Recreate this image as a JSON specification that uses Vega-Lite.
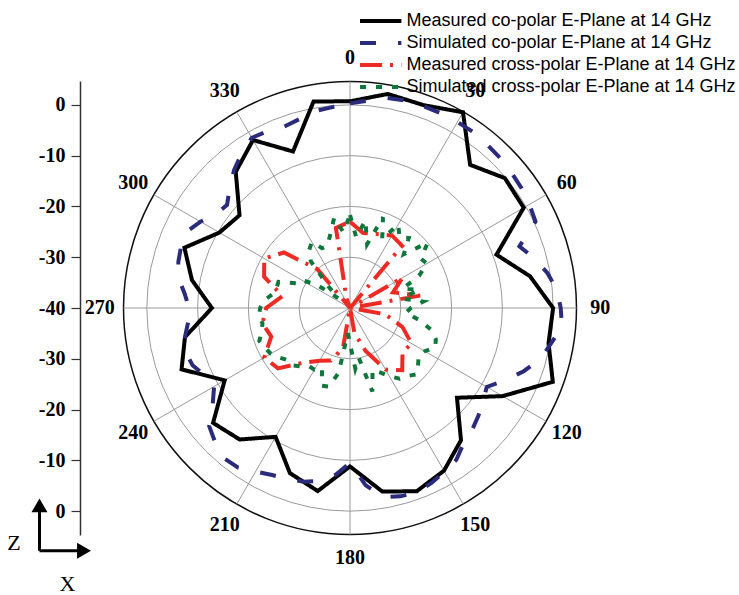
{
  "$schema": "https://vega.github.io/schema/vega-lite/v6.json",
  "width": 540,
  "height": 454,
  "autosize": {"type": "none"},
  "padding": {"left": 80, "top": 81, "right": 119, "bottom": 60},
  "background": "white",
  "config": {"view": {"stroke": null}},
  "datasets": {
    "seriesNames": [
      {"s": "mco", "series": "Measured co-polar E-Plane at 14 GHz"},
      {"s": "sco", "series": "Simulated co-polar E-Plane at 14 GHz"},
      {"s": "mx", "series": "Measured cross-polar E-Plane at 14 GHz"},
      {"s": "sx", "series": "Simulated cross-polar E-Plane at 14 GHz"}
    ],
    "rings": [
      {"level": 10, "kind": "grid"}, {"level": 20, "kind": "grid"}, {"level": 30, "kind": "grid"},
      {"level": 40, "kind": "grid"}, {"level": 44.6, "kind": "rim"}
    ],
    "spokes": [
      {"angle": 0}, {"angle": 30}, {"angle": 60}, {"angle": 90}, {"angle": 120}, {"angle": 150},
      {"angle": 180}, {"angle": 210}, {"angle": 240}, {"angle": 270}, {"angle": 300}, {"angle": 330}
    ],
    "frame": [
      {"axis": "Z", "x": -61.15, "y": -47.8, "x2": -61.15, "y2": -39.5},
      {"axis": "X", "x": -61.15, "y": -47.8, "x2": -53.0, "y2": -47.8}
    ],
    "heads": [
      {"axis": "Z", "x": -61.15, "y": -38.87, "shape": "triangle-up"},
      {"axis": "X", "x": -52.38, "y": -47.8, "shape": "triangle-right"}
    ],
    "frameLabels": [
      {"axis": "Z", "x": -66.17, "y": -46.22},
      {"axis": "X", "x": -55.63, "y": -54.39}
    ],
    "curves": [
      {"s": "mco", "angle": 0, "dB": 0.7}, {"s": "mco", "angle": 10, "dB": 2.8}, {"s": "mco", "angle": 20, "dB": 2.5},
      {"s": "mco", "angle": 30, "dB": 4.5}, {"s": "mco", "angle": 40, "dB": -3.2}, {"s": "mco", "angle": 50, "dB": -0.2},
      {"s": "mco", "angle": 60, "dB": -0.5}, {"s": "mco", "angle": 70, "dB": -9.3}, {"s": "mco", "angle": 80, "dB": -4.0},
      {"s": "mco", "angle": 90, "dB": 0.0}, {"s": "mco", "angle": 100, "dB": -0.3}, {"s": "mco", "angle": 110, "dB": 2.5},
      {"s": "mco", "angle": 120, "dB": -5.3}, {"s": "mco", "angle": 130, "dB": -12.5}, {"s": "mco", "angle": 140, "dB": -6.0},
      {"s": "mco", "angle": 150, "dB": -3.0}, {"s": "mco", "angle": 160, "dB": -1.6}, {"s": "mco", "angle": 170, "dB": -3.3},
      {"s": "mco", "angle": 180, "dB": -8.8}, {"s": "mco", "angle": 190, "dB": -3.4}, {"s": "mco", "angle": 200, "dB": -5.4},
      {"s": "mco", "angle": 210, "dB": -10.7}, {"s": "mco", "angle": 220, "dB": -6.2}, {"s": "mco", "angle": 230, "dB": -4.8},
      {"s": "mco", "angle": 240, "dB": -11.5}, {"s": "mco", "angle": 250, "dB": -4.7}, {"s": "mco", "angle": 260, "dB": -7.0},
      {"s": "mco", "angle": 270, "dB": -12.8}, {"s": "mco", "angle": 280, "dB": -8.4}, {"s": "mco", "angle": 290, "dB": -5.3},
      {"s": "mco", "angle": 300, "dB": -10.3}, {"s": "mco", "angle": 310, "dB": -11.6}, {"s": "mco", "angle": 320, "dB": -5.0},
      {"s": "mco", "angle": 330, "dB": -1.8}, {"s": "mco", "angle": 340, "dB": -7.2}, {"s": "mco", "angle": 350, "dB": 1.3},
      {"s": "mco", "angle": 360, "dB": 0.7},

      {"s": "sco", "angle": 0, "dB": 0.3}, {"s": "sco", "angle": 5, "dB": 1.0}, {"s": "sco", "angle": 10, "dB": 2.0},
      {"s": "sco", "angle": 15, "dB": 2.3}, {"s": "sco", "angle": 20, "dB": 2.3}, {"s": "sco", "angle": 25, "dB": 2.3},
      {"s": "sco", "angle": 30, "dB": 2.3}, {"s": "sco", "angle": 35, "dB": 2.3}, {"s": "sco", "angle": 40, "dB": 2.0},
      {"s": "sco", "angle": 45, "dB": 1.8}, {"s": "sco", "angle": 50, "dB": 1.5}, {"s": "sco", "angle": 55, "dB": 1.2},
      {"s": "sco", "angle": 60, "dB": 0.8}, {"s": "sco", "angle": 65, "dB": 0.3}, {"s": "sco", "angle": 70, "dB": -4.5},
      {"s": "sco", "angle": 75, "dB": -2.4}, {"s": "sco", "angle": 80, "dB": -0.5}, {"s": "sco", "angle": 85, "dB": 0.9},
      {"s": "sco", "angle": 90, "dB": 1.5}, {"s": "sco", "angle": 95, "dB": 1.9}, {"s": "sco", "angle": 100, "dB": 0.2},
      {"s": "sco", "angle": 105, "dB": -1.2}, {"s": "sco", "angle": 110, "dB": -3.6}, {"s": "sco", "angle": 115, "dB": -6.3},
      {"s": "sco", "angle": 120, "dB": -8.9}, {"s": "sco", "angle": 125, "dB": -8.0}, {"s": "sco", "angle": 130, "dB": -7.0},
      {"s": "sco", "angle": 135, "dB": -6.0}, {"s": "sco", "angle": 140, "dB": -5.2}, {"s": "sco", "angle": 145, "dB": -3.5},
      {"s": "sco", "angle": 150, "dB": -2.8}, {"s": "sco", "angle": 155, "dB": -2.0}, {"s": "sco", "angle": 160, "dB": -1.4},
      {"s": "sco", "angle": 165, "dB": -1.6}, {"s": "sco", "angle": 170, "dB": -2.2}, {"s": "sco", "angle": 175, "dB": -5.0},
      {"s": "sco", "angle": 180, "dB": -9.5}, {"s": "sco", "angle": 185, "dB": -7.0}, {"s": "sco", "angle": 190, "dB": -5.4},
      {"s": "sco", "angle": 195, "dB": -4.6}, {"s": "sco", "angle": 200, "dB": -4.2}, {"s": "sco", "angle": 205, "dB": -3.7},
      {"s": "sco", "angle": 210, "dB": -2.8}, {"s": "sco", "angle": 215, "dB": -1.6}, {"s": "sco", "angle": 220, "dB": -1.4},
      {"s": "sco", "angle": 225, "dB": -2.5}, {"s": "sco", "angle": 230, "dB": -3.8}, {"s": "sco", "angle": 235, "dB": -7.0},
      {"s": "sco", "angle": 240, "dB": -9.1}, {"s": "sco", "angle": 245, "dB": -8.5}, {"s": "sco", "angle": 250, "dB": -7.0},
      {"s": "sco", "angle": 255, "dB": -6.5}, {"s": "sco", "angle": 260, "dB": -7.0}, {"s": "sco", "angle": 265, "dB": -8.0},
      {"s": "sco", "angle": 270, "dB": -8.3}, {"s": "sco", "angle": 275, "dB": -7.3}, {"s": "sco", "angle": 280, "dB": -5.7},
      {"s": "sco", "angle": 285, "dB": -5.0}, {"s": "sco", "angle": 290, "dB": -4.6}, {"s": "sco", "angle": 295, "dB": -4.5},
      {"s": "sco", "angle": 300, "dB": -6.0}, {"s": "sco", "angle": 305, "dB": -7.8}, {"s": "sco", "angle": 310, "dB": -8.4},
      {"s": "sco", "angle": 315, "dB": -6.5}, {"s": "sco", "angle": 320, "dB": -4.5}, {"s": "sco", "angle": 325, "dB": -2.8},
      {"s": "sco", "angle": 330, "dB": -1.3}, {"s": "sco", "angle": 335, "dB": -1.6}, {"s": "sco", "angle": 340, "dB": -2.0},
      {"s": "sco", "angle": 345, "dB": -1.5}, {"s": "sco", "angle": 350, "dB": -0.6}, {"s": "sco", "angle": 355, "dB": -0.3},
      {"s": "sco", "angle": 360, "dB": 0.3},

      {"s": "mx", "angle": 0, "dB": -23.0}, {"s": "mx", "angle": 10, "dB": -25.0}, {"s": "mx", "angle": 20, "dB": -24.5},
      {"s": "mx", "angle": 30, "dB": -23.5}, {"s": "mx", "angle": 40, "dB": -24.0}, {"s": "mx", "angle": 50, "dB": -40.0},
      {"s": "mx", "angle": 60, "dB": -28.0}, {"s": "mx", "angle": 70, "dB": -31.0}, {"s": "mx", "angle": 80, "dB": -26.0},
      {"s": "mx", "angle": 90, "dB": -40.0}, {"s": "mx", "angle": 100, "dB": -33.0}, {"s": "mx", "angle": 110, "dB": -29.0},
      {"s": "mx", "angle": 120, "dB": -26.0}, {"s": "mx", "angle": 130, "dB": -26.5}, {"s": "mx", "angle": 140, "dB": -24.0},
      {"s": "mx", "angle": 150, "dB": -26.0}, {"s": "mx", "angle": 160, "dB": -31.0}, {"s": "mx", "angle": 170, "dB": -35.0},
      {"s": "mx", "angle": 180, "dB": -40.0}, {"s": "mx", "angle": 190, "dB": -32.0}, {"s": "mx", "angle": 200, "dB": -29.0},
      {"s": "mx", "angle": 210, "dB": -28.0}, {"s": "mx", "angle": 220, "dB": -26.0}, {"s": "mx", "angle": 230, "dB": -21.5},
      {"s": "mx", "angle": 240, "dB": -20.5}, {"s": "mx", "angle": 250, "dB": -23.5}, {"s": "mx", "angle": 260, "dB": -22.5},
      {"s": "mx", "angle": 270, "dB": -23.5}, {"s": "mx", "angle": 280, "dB": -26.5}, {"s": "mx", "angle": 290, "dB": -22.0},
      {"s": "mx", "angle": 300, "dB": -20.5}, {"s": "mx", "angle": 310, "dB": -23.0}, {"s": "mx", "angle": 320, "dB": -30.0},
      {"s": "mx", "angle": 330, "dB": -40.0}, {"s": "mx", "angle": 340, "dB": -38.0}, {"s": "mx", "angle": 350, "dB": -24.0},
      {"s": "mx", "angle": 360, "dB": -23.0},

      {"s": "sx", "angle": 0, "dB": -21.7}, {"s": "sx", "angle": 5, "dB": -26.0}, {"s": "sx", "angle": 10, "dB": -22.5},
      {"s": "sx", "angle": 15, "dB": -27.0}, {"s": "sx", "angle": 20, "dB": -21.0}, {"s": "sx", "angle": 25, "dB": -25.0},
      {"s": "sx", "angle": 30, "dB": -21.0}, {"s": "sx", "angle": 35, "dB": -23.0}, {"s": "sx", "angle": 40, "dB": -22.0},
      {"s": "sx", "angle": 45, "dB": -25.0}, {"s": "sx", "angle": 50, "dB": -20.0}, {"s": "sx", "angle": 55, "dB": -23.0},
      {"s": "sx", "angle": 60, "dB": -22.5}, {"s": "sx", "angle": 65, "dB": -25.0}, {"s": "sx", "angle": 70, "dB": -29.0},
      {"s": "sx", "angle": 75, "dB": -26.0}, {"s": "sx", "angle": 80, "dB": -29.5}, {"s": "sx", "angle": 85, "dB": -25.5},
      {"s": "sx", "angle": 90, "dB": -28.0}, {"s": "sx", "angle": 95, "dB": -29.0}, {"s": "sx", "angle": 100, "dB": -26.0},
      {"s": "sx", "angle": 105, "dB": -23.5}, {"s": "sx", "angle": 110, "dB": -22.0}, {"s": "sx", "angle": 115, "dB": -21.5},
      {"s": "sx", "angle": 120, "dB": -23.0}, {"s": "sx", "angle": 125, "dB": -23.5}, {"s": "sx", "angle": 130, "dB": -22.5},
      {"s": "sx", "angle": 135, "dB": -21.5}, {"s": "sx", "angle": 140, "dB": -22.5}, {"s": "sx", "angle": 145, "dB": -23.0},
      {"s": "sx", "angle": 150, "dB": -24.5}, {"s": "sx", "angle": 155, "dB": -26.0}, {"s": "sx", "angle": 160, "dB": -27.0},
      {"s": "sx", "angle": 165, "dB": -23.0}, {"s": "sx", "angle": 170, "dB": -30.0}, {"s": "sx", "angle": 175, "dB": -28.0},
      {"s": "sx", "angle": 180, "dB": -33.0}, {"s": "sx", "angle": 185, "dB": -35.0}, {"s": "sx", "angle": 190, "dB": -27.0},
      {"s": "sx", "angle": 195, "dB": -24.0}, {"s": "sx", "angle": 200, "dB": -23.7}, {"s": "sx", "angle": 205, "dB": -27.0},
      {"s": "sx", "angle": 210, "dB": -26.0}, {"s": "sx", "angle": 215, "dB": -26.0}, {"s": "sx", "angle": 220, "dB": -25.0},
      {"s": "sx", "angle": 225, "dB": -24.0}, {"s": "sx", "angle": 230, "dB": -24.0}, {"s": "sx", "angle": 235, "dB": -23.0},
      {"s": "sx", "angle": 240, "dB": -22.0}, {"s": "sx", "angle": 245, "dB": -21.5}, {"s": "sx", "angle": 250, "dB": -21.0},
      {"s": "sx", "angle": 255, "dB": -22.0}, {"s": "sx", "angle": 260, "dB": -22.5}, {"s": "sx", "angle": 265, "dB": -22.0},
      {"s": "sx", "angle": 270, "dB": -22.3}, {"s": "sx", "angle": 275, "dB": -23.0}, {"s": "sx", "angle": 280, "dB": -24.5},
      {"s": "sx", "angle": 285, "dB": -25.0}, {"s": "sx", "angle": 290, "dB": -25.0}, {"s": "sx", "angle": 295, "dB": -28.5},
      {"s": "sx", "angle": 300, "dB": -29.0}, {"s": "sx", "angle": 305, "dB": -32.0}, {"s": "sx", "angle": 310, "dB": -37.0},
      {"s": "sx", "angle": 315, "dB": -34.0}, {"s": "sx", "angle": 320, "dB": -28.0}, {"s": "sx", "angle": 325, "dB": -26.0},
      {"s": "sx", "angle": 330, "dB": -25.0}, {"s": "sx", "angle": 335, "dB": -27.0}, {"s": "sx", "angle": 340, "dB": -27.0},
      {"s": "sx", "angle": 345, "dB": -25.0}, {"s": "sx", "angle": 350, "dB": -22.0}, {"s": "sx", "angle": 355, "dB": -25.0},
      {"s": "sx", "angle": 360, "dB": -21.7}
    ]
  },
  "layer": [
    {
      "data": {"name": "rings"},
      "mark": {"type": "point", "shape": "circle", "filled": false, "opacity": 1},
      "encoding": {
        "x": {"datum": 0, "type": "quantitative", "scale": {"domain": [-53.17, 53.17], "nice": false, "zero": false}, "axis": null},
        "y": {"datum": 0, "type": "quantitative", "scale": {"domain": [-44.7, 44.7], "nice": false, "zero": false}},
        "size": {"field": "level", "type": "quantitative", "scale": {"type": "pow", "exponent": 2, "domain": [0, 44.7], "range": [0, 206116]}, "legend": null},
        "stroke": {"field": "kind", "type": "nominal", "scale": {"domain": ["grid", "rim"], "range": ["#9a9a9a", "#111111"]}, "legend": null},
        "strokeWidth": {"field": "kind", "type": "nominal", "scale": {"domain": ["grid", "rim"], "range": [1, 1.5]}, "legend": null}
      }
    },
    {
      "data": {"name": "spokes"},
      "transform": [
        {"calculate": "44.6 * sin(datum.angle * PI / 180)", "as": "ex"},
        {"calculate": "44.6 * cos(datum.angle * PI / 180)", "as": "ey"}
      ],
      "mark": {"type": "rule", "color": "#9a9a9a", "strokeWidth": 1},
      "encoding": {
        "x": {"field": "ex", "type": "quantitative", "scale": {"domain": [-53.17, 53.17], "nice": false, "zero": false}, "axis": null},
        "y": {"field": "ey", "type": "quantitative", "scale": {"domain": [-44.7, 44.7], "nice": false, "zero": false}},
        "x2": {"datum": 0},
        "y2": {"datum": 0}
      }
    },
    {
      "data": {"name": "spokes"},
      "transform": [
        {"calculate": "49.3 * sin(datum.angle * PI / 180)", "as": "lx"},
        {"calculate": "49.3 * cos(datum.angle * PI / 180)", "as": "ly"}
      ],
      "mark": {"type": "text", "font": "Liberation Serif", "fontWeight": "bold", "fontSize": 20, "color": "black", "align": "center", "baseline": "middle"},
      "encoding": {
        "x": {"field": "lx", "type": "quantitative", "scale": {"domain": [-53.17, 53.17], "nice": false, "zero": false}, "axis": null},
        "y": {"field": "ly", "type": "quantitative", "scale": {"domain": [-44.7, 44.7], "nice": false, "zero": false}},
        "text": {"field": "angle", "type": "quantitative"}
      }
    },
    {
      "data": {"name": "curves"},
      "transform": [
        {"lookup": "s", "from": {"data": {"name": "seriesNames"}, "key": "s", "fields": ["series"]}},
        {"calculate": "(datum.dB + 40) * sin(datum.angle * PI / 180)", "as": "cx"},
        {"calculate": "(datum.dB + 40) * cos(datum.angle * PI / 180)", "as": "cy"}
      ],
      "mark": {"type": "line", "strokeWidth": 4, "strokeCap": "butt", "strokeJoin": "miter"},
      "encoding": {
        "x": {"field": "cx", "type": "quantitative", "scale": {"domain": [-53.17, 53.17], "nice": false, "zero": false}, "axis": null},
        "y": {
          "field": "cy", "type": "quantitative",
          "scale": {"domain": [-44.7, 44.7], "nice": false, "zero": false},
          "axis": {
            "title": null, "grid": false,
            "values": [-40, -30, -20, -10, 0, 10, 20, 30, 40],
            "labelExpr": "abs(datum.value) - 40",
            "labelFont": "Liberation Serif", "labelFontWeight": "bold", "labelFontSize": 20, "labelColor": "black",
            "labelPadding": 6, "labelFlush": false, "labelOverlap": false,
            "tickSize": 9, "tickColor": "#333333", "tickWidth": 1.2,
            "domainColor": "#333333", "domainWidth": 1.5
          }
        },
        "order": {"field": "angle", "type": "quantitative"},
        "color": {
          "field": "series", "type": "nominal",
          "scale": {
            "domain": ["Measured co-polar E-Plane at 14 GHz", "Simulated co-polar E-Plane at 14 GHz", "Measured cross-polar E-Plane at 14 GHz", "Simulated cross-polar E-Plane at 14 GHz"],
            "range": ["#000000", "#2b2b7b", "#ee2a24", "#10773c"]
          },
          "legend": {
            "title": null, "orient": "none", "legendX": 289.7, "legendY": -71,
            "symbolType": "M-2.3,0L2.3,0", "symbolSize": 324, "symbolStrokeWidth": 4,
            "labelFont": "Liberation Sans", "labelFontSize": 18, "labelColor": "black", "labelLimit": 0,
            "labelOffset": 14.7, "rowPadding": 2, "padding": 0
          }
        },
        "strokeDash": {
          "field": "series", "type": "nominal",
          "scale": {
            "domain": ["Measured co-polar E-Plane at 14 GHz", "Simulated co-polar E-Plane at 14 GHz", "Measured cross-polar E-Plane at 14 GHz", "Simulated cross-polar E-Plane at 14 GHz"],
            "range": [[1, 0], [16, 22], [22, 8, 3, 8], [6, 10]]
          },
          "legend": {
            "title": null, "orient": "none", "legendX": 289.7, "legendY": -71,
            "symbolType": "M-2.3,0L2.3,0", "symbolSize": 324, "symbolStrokeWidth": 4,
            "labelFont": "Liberation Sans", "labelFontSize": 18, "labelColor": "black", "labelLimit": 0,
            "labelOffset": 14.7, "rowPadding": 2, "padding": 0
          }
        }
      }
    },
    {
      "data": {"name": "frame"},
      "mark": {"type": "rule", "color": "black", "strokeWidth": 3},
      "encoding": {
        "x": {"field": "x", "type": "quantitative", "scale": {"domain": [-53.17, 53.17], "nice": false, "zero": false}, "axis": null},
        "y": {"field": "y", "type": "quantitative", "scale": {"domain": [-44.7, 44.7], "nice": false, "zero": false}},
        "x2": {"field": "x2"},
        "y2": {"field": "y2"}
      }
    },
    {
      "data": {"name": "heads"},
      "mark": {"type": "point", "filled": true, "color": "black", "opacity": 1, "size": 256},
      "encoding": {
        "x": {"field": "x", "type": "quantitative", "scale": {"domain": [-53.17, 53.17], "nice": false, "zero": false}, "axis": null},
        "y": {"field": "y", "type": "quantitative", "scale": {"domain": [-44.7, 44.7], "nice": false, "zero": false}},
        "shape": {"field": "shape", "type": "nominal", "scale": null}
      }
    },
    {
      "data": {"name": "frameLabels"},
      "mark": {"type": "text", "font": "Liberation Serif", "fontSize": 22, "color": "black", "align": "center", "baseline": "middle"},
      "encoding": {
        "x": {"field": "x", "type": "quantitative", "scale": {"domain": [-53.17, 53.17], "nice": false, "zero": false}, "axis": null},
        "y": {"field": "y", "type": "quantitative", "scale": {"domain": [-44.7, 44.7], "nice": false, "zero": false}},
        "text": {"field": "axis", "type": "nominal"}
      }
    }
  ]
}
